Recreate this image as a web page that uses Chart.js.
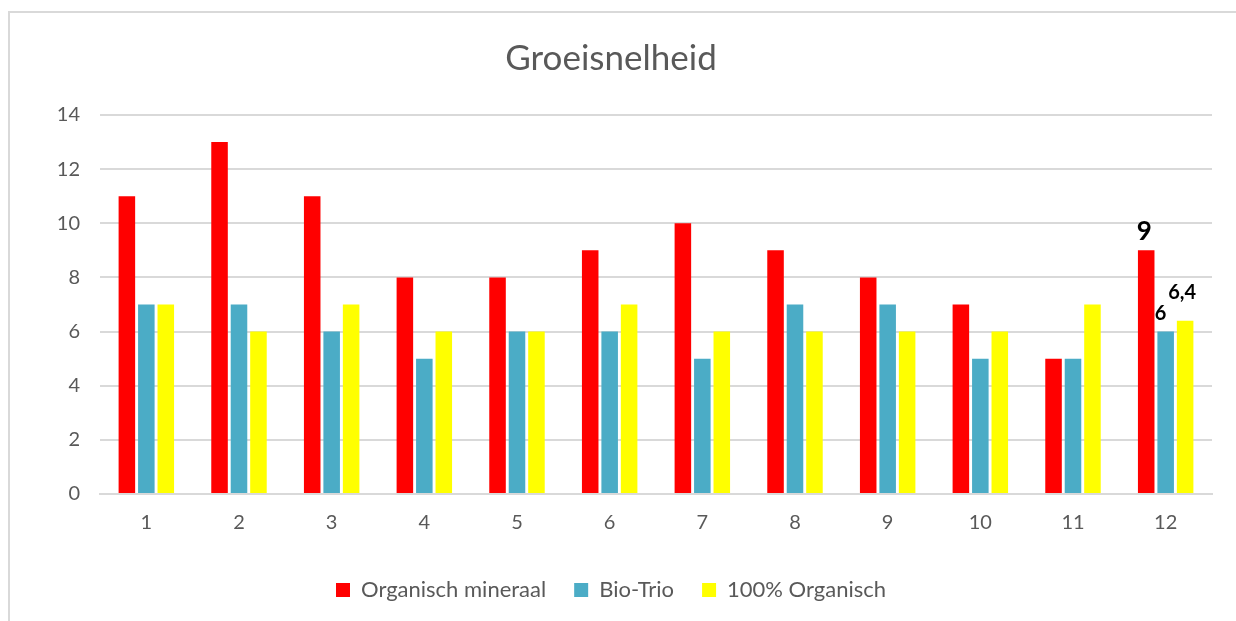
<!DOCTYPE html>
<html>
<head>
<meta charset="utf-8">
<script src="https://cdn.jsdelivr.net/npm/chart.js@4.4.0/dist/chart.umd.min.js"></script>
<style>
  html, body { margin: 0; padding: 0; background: #fff; }
  #box {
    position: absolute; left: 8px; top: 11px;
    width: 1228px; height: 610px;
    border-top: 2px solid #d9d9d9; border-left: 2px solid #d9d9d9;
  }
  canvas { display: block; }
</style>
</head>
<body>
<div id="box"><canvas id="chart1" width="1226" height="608"></canvas></div>
<script>
// weeks / plant numbers on the x axis
const categories = ['1', '2', '3', '4', '5', '6', '7', '8', '9', '10', '11', '12'];

const organischMineraal = [11, 13, 11, 8, 8, 9, 10, 9, 8, 7, 5, 9];
const bioTrio = [7, 7, 6, 5, 6, 6, 5, 7, 7, 5, 5, 6];
const honderdOrganisch = [7, 6, 7, 6, 6, 7, 6, 6, 6, 6, 7, 6.4];

const seriesNames = ['Organisch mineraal', 'Bio-Trio', '100% Organisch'];
const seriesColors = ['#FF0000', '#4BACC6', '#FFFF00'];

const yTicks = [0, 2, 4, 6, 8, 10, 12, 14];

const textColor = '#595959';
const fontFamily = 'Lato, "Open Sans", sans-serif';

// only the last group carries value labels in the original
const labelledIndex = 11;

const valueLabels = {
    id: 'valueLabels',
    afterDatasetsDraw(chart) {
        const ctx = chart.ctx;
        const styles = [
            { size: 26, dx: -2, dy: -6 },
            { size: 20, dx: -5, dy: -8 },
            { size: 20, dx: -3, dy: -18 }
        ];
        ctx.save();
        ctx.fillStyle = '#000';
        ctx.textAlign = 'center';
        ctx.textBaseline = 'bottom';
        chart.data.datasets.forEach((ds, i) => {
            const bar = chart.getDatasetMeta(i).data[labelledIndex];
            const v = ds.data[labelledIndex];
            const s = styles[i];
            ctx.font = 'bold ' + s.size + 'px ' + fontFamily;
            ctx.fillText(String(v).replace('.', ','), bar.x + s.dx, bar.y + s.dy);
        });
        ctx.restore();
    }
};

const ctx1 = document.getElementById('chart1').getContext('2d');
const chart1 = new Chart(ctx1, {
    type: 'bar',
    data: {
        labels: categories,
        datasets: [organischMineraal, bioTrio, honderdOrganisch].map((d, i) => ({
            label: seriesNames[i],
            data: d,
            backgroundColor: seriesColors[i],
            borderWidth: 0,
            categoryPercentage: 0.63,
            barPercentage: 0.85
        }))
    },
    options: {
        responsive: false,
        animation: false,
        layout: { padding: { left: 0, right: 24, top: 0, bottom: 10 } },
        plugins: {
            title: {
                display: true,
                text: 'Groeisnelheid',
                color: textColor,
                font: { family: fontFamily, size: 35, weight: 'normal' },
                padding: { top: 25, bottom: 35 }
            },
            legend: {
                position: 'bottom',
                labels: {
                    color: textColor,
                    font: { family: fontFamily, size: 22 },
                    boxWidth: 14,
                    boxHeight: 14,
                    padding: 28
                }
            },
            tooltip: { enabled: false }
        },
        scales: {
            x: {
                grid: { display: false },
                border: { color: '#d9d9d9', width: 2 },
                ticks: { color: textColor, font: { family: fontFamily, size: 20 }, padding: 9 },
                afterFit(scale) { scale.height = 57; }
            },
            y: {
                min: 0, max: 14,
                afterBuildTicks(scale) { scale.ticks = yTicks.map(v => ({ value: v })); },
                grid: { color: '#d9d9d9', lineWidth: 2, drawTicks: false },
                border: { display: false },
                ticks: { color: textColor, font: { family: fontFamily, size: 20 }, padding: 20 },
                afterFit(scale) { scale.width = 90; }
            }
        }
    },
    plugins: [valueLabels]
});
</script>
</body>
</html>
